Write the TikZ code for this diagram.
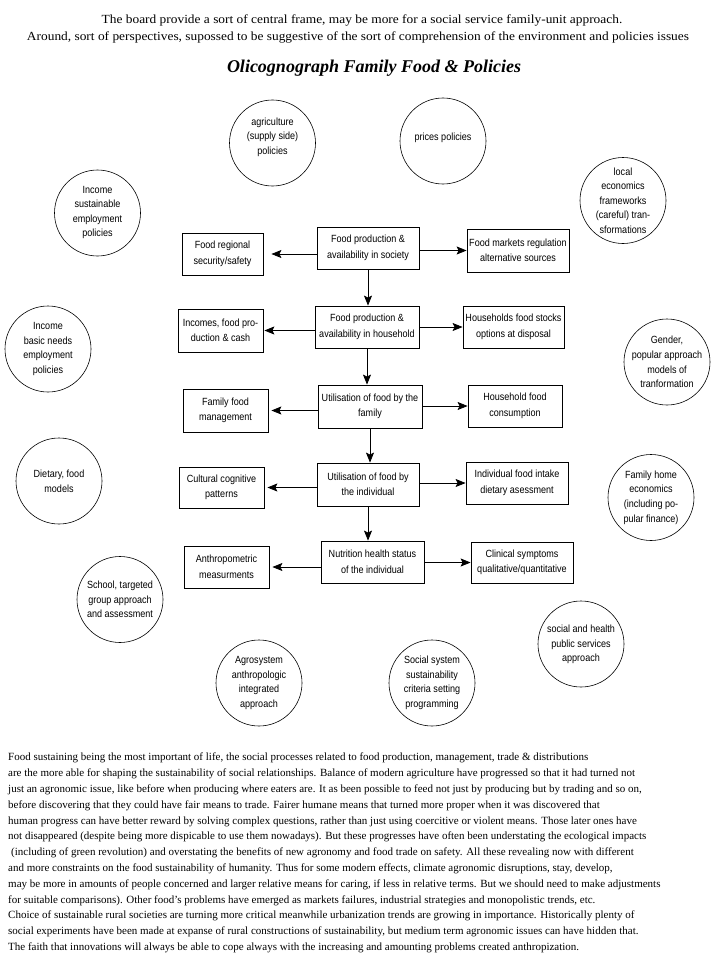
\documentclass[tikz,border=0pt]{standalone}
\usepackage{fontspec}
\setmainfont{Liberation Serif}
\newfontfamily\lblfont[FakeStretch=0.87]{Liberation Sans}
\newfontfamily\topfont[FakeStretch=1.08]{Liberation Serif}
\usetikzlibrary{arrows.meta}
\begin{document}
\begin{tikzpicture}[x=1pt,y=-1pt,
  box/.style={draw, line width=0.8pt, align=center, inner sep=0pt,
    font=\lblfont\fontsize{10.4}{15.5}\selectfont},
  circ/.style={draw, circle, line width=0.6pt, minimum size=86pt, inner sep=0pt},
  ctxt/.style={align=center, inner sep=0pt, font=\lblfont\fontsize{10.4}{14.6}\selectfont},
  arr/.style={-{Stealth[length=10pt,width=8pt,inset=2pt]}, line width=0.8pt},
  toptxt/.style={inner sep=0pt, font=\topfont\fontsize{12.4}{14}\selectfont},
  bodytxt/.style={inner sep=0pt, align=left, anchor=north west, font=\fontsize{11}{15.8}\selectfont}]
\useasboundingbox[fill=white] (0,0) rectangle (725,963);

% top texts
\node[toptxt] (t1) at (362,20) {The board provide a sort of central frame, may be more for a social service family-unit approach.};
\node[toptxt] (t2) at (358,37) {Around, sort of perspectives, supossed to be suggestive of the sort of comprehension of the environment and policies issues};
\node[inner sep=0pt, font=\fontsize{18}{20}\selectfont\bfseries\itshape] (title) at (374,68) {Olicognograph Family Food \& Policies};

% central column
\node[box, minimum width=102pt, minimum height=42pt] (soc) at (368,248) {Food production \&\\availability in society};
\node[box, minimum width=104pt, minimum height=42pt] (hh) at (367,327) {Food production \&\\availability in household};
\node[box, minimum width=104pt, minimum height=43pt] (fam) at (370,406.5) {Utilisation of food by the\\family};
\node[box, minimum width=102pt, minimum height=43pt] (ind) at (368,484.5) {Utilisation of food by\\the individual};
\node[box, minimum width=103pt, minimum height=42pt] (nut) at (372.5,562) {Nutrition health status\\of the individual};

% left column
\node[box, minimum width=81pt, minimum height=42pt] (fr) at (222.5,254) {Food regional\\security/safety};
\node[box, minimum width=85pt, minimum height=43pt] (inc) at (220.5,330.5) {Incomes, food pro-\\duction \& cash};
\node[box, minimum width=85pt, minimum height=43pt] (ffm) at (225.5,410.5) {Family food\\management};
\node[box, minimum width=85pt, minimum height=41pt] (ccp) at (221.5,487.5) {Cultural cognitive\\patterns};
\node[box, minimum width=85pt, minimum height=42pt] (ant) at (226.5,567) {Anthropometric\\measurments};

% right column
\node[box, minimum width=102pt, minimum height=43pt] (fm) at (518,250.5) {Food markets regulation\\alternative sources};
\node[box, minimum width=101pt, minimum height=42pt] (hs) at (513.5,327) {Households food stocks\\options at disposal};
\node[box, minimum width=94pt, minimum height=42pt] (hfc) at (515,406) {Household food\\consumption};
\node[box, minimum width=102pt, minimum height=42pt] (ifi) at (517,483) {Individual food intake\\dietary asessment};
\node[box, minimum width=102pt, minimum height=41pt] (cs) at (522,562.5) {Clinical symptoms\\qualitative/quantitative};

% vertical arrows
\draw[arr] (soc.south) -- (soc.south |- hh.north);
\draw[arr] (hh.south) -- (hh.south |- fam.north);
\draw[arr] (fam.south) -- (fam.south |- ind.north);
\draw[arr] (ind.south) -- (ind.south |- nut.north);

% left arrows
\draw[arr, shorten >=8pt] (soc.west |- fr.east) -- (fr.east);
\draw[arr, shorten >=1pt] (hh.west |- inc.east) -- (inc.east);
\draw[arr, shorten >=3pt] (fam.west |- ffm.east) -- (ffm.east);
\draw[arr, shorten >=3pt] (ind.west |- ccp.east) -- (ccp.east);
\draw[arr, shorten >=3pt] (nut.west |- ant.east) -- (ant.east);

% right arrows
\draw[arr] (soc.east |- fm.west) -- (fm.west);
\draw[arr] (hh.east |- hs.west) -- (hs.west);
\draw[arr] (fam.east |- hfc.west) -- (hfc.west);
\draw[arr] (ind.east |- ifi.west) -- (ifi.west);
\draw[arr] (nut.east |- cs.west) -- (cs.west);

% circles
\node[circ] (agri) at (272.5,143) {};
\node[ctxt] (agrit) at (272.5,137) {agriculture\\(supply side)\\policies};
\node[circ] (price) at (443,141) {};
\node[ctxt] (pricet) at (443,138) {prices policies};
\node[circ] (loc) at (623,200.5) {};
\node[ctxt] (loct) at (623,200.5) {local\\economics\\frameworks\\(careful) tran-\\sformations};
\node[circ] (insus) at (97.5,213) {};
\node[ctxt] (insust) at (97.5,212.5) {Income\\sustainable\\employment\\policies};
\node[circ] (inbas) at (48,349) {};
\node[ctxt] (inbast) at (48,349) {Income\\basic needs\\employment\\policies};
\node[circ] (gen) at (667,362) {};
\node[ctxt] (gent) at (667,362) {Gender,\\popular approach\\models of\\tranformation};
\node[circ] (diet) at (59,481) {};
\node[ctxt] (dietat) at (59,481) {Dietary, food\\models};
\node[circ] (fhe) at (651,497.5) {};
\node[ctxt] (fhet) at (651,497.5) {Family home\\economics\\(including po-\\pular finance)};
\node[circ] (sch) at (120,599.5) {};
\node[ctxt] (scht) at (120,599.5) {School, targeted\\group approach\\and assessment};
\node[circ] (soh) at (581,644) {};
\node[ctxt] (soht) at (581,644.5) {social and health\\public services\\approach};
\node[circ] (agro) at (259,683) {};
\node[ctxt] (agrot) at (259,683) {Agrosystem\\anthropologic\\integrated\\approach};
\node[circ] (ssy) at (432,683) {};
\node[ctxt] (ssyt) at (432,683) {Social system\\sustainability\\criteria setting\\programming};

% bottom paragraph
\node[bodytxt] (body) at (8,753) {Food sustaining being the most important of life, the social processes related to food production, management, trade \& distributions\\
are the more able for shaping the sustainability of social relationships. Balance of modern agriculture have progressed so that it had turned not\\
just an agronomic issue, like before when producing where eaters are. It as been possible to feed not just by producing but by trading  and so on,\\
before discovering that they could have fair means to trade. Fairer humane means that turned more proper when it was discovered that\\
human progress can have better reward by solving complex questions, rather than just using coercitive or violent means. Those later ones have\\
not disappeared (despite being more dispicable to use them nowadays). But these progresses have often been understating the ecological impacts\\
\hspace*{3pt}(including of green revolution) and overstating the benefits of new agronomy and food trade on safety. All these revealing now with different\\
and more constraints on the food sustainability of humanity. Thus for some modern effects, climate agronomic disruptions, stay, develop,\\
may be more in amounts of people concerned and larger relative means for caring, if less in relative terms. But we should need to make adjustments\\
for suitable comparisons). Other food's problems have emerged as markets failures, industrial strategies and monopolistic trends, etc.\\
Choice of sustainable rural societies are turning more critical meanwhile urbanization trends are growing in importance. Historically plenty of\\
social experiments have been made at expanse of rural constructions of sustainability, but medium term agronomic issues can have hidden that.\\
The faith that innovations will always be able to cope always with the increasing and amounting problems created anthropization.};
\end{tikzpicture}
\end{document}
